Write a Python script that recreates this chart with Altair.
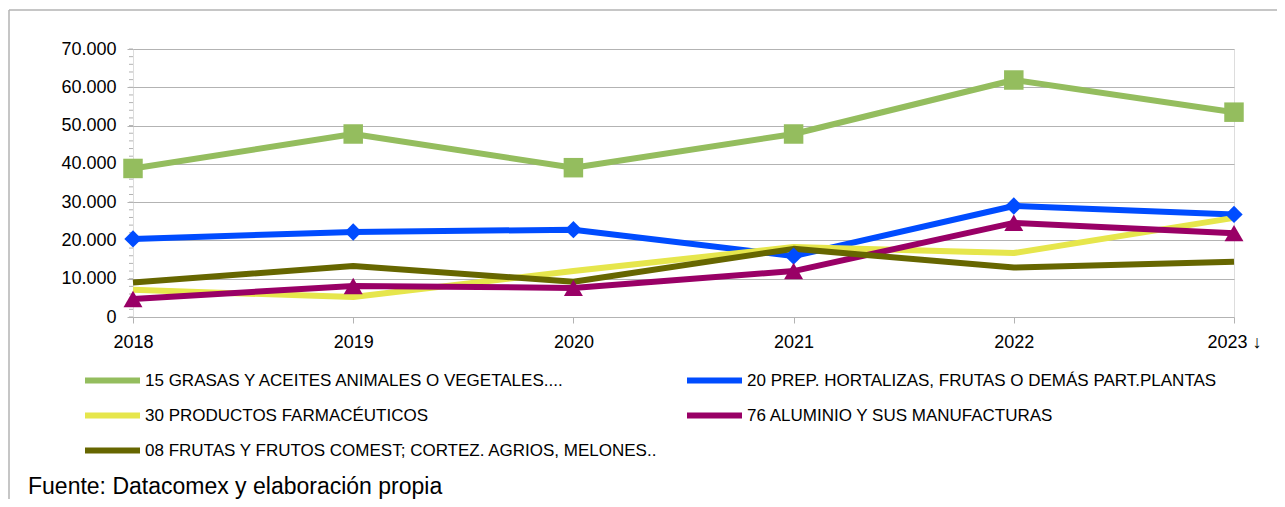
import altair as alt
import pandas as pd

years = [2018, 2019, 2020, 2021, 2022, 2023]
series = [
    "15 GRASAS Y ACEITES ANIMALES O VEGETALES....",
    "20 PREP. HORTALIZAS, FRUTAS O DEMÁS PART.PLANTAS",
    "30 PRODUCTOS FARMACÉUTICOS",
    "76 ALUMINIO Y SUS MANUFACTURAS",
    "08 FRUTAS Y FRUTOS COMEST; CORTEZ. AGRIOS, MELONES..",
]
grasas = [38800, 47800, 39000, 47800, 61900, 53500]
hortalizas = [20400, 22200, 22800, 15900, 29000, 26800]
farmaceuticos = [7100, 5200, 12000, 18300, 16700, 25900]
aluminio = [4700, 8100, 7600, 12000, 24600, 21900]
frutas = [9000, 13300, 9200, 17800, 12900, 14400]
colors = ["#94BD5E", "#004CFF", "#E6E64C", "#990066", "#666600"]
marker_shapes = ["square", "diamond", None, "triangle-up", None]
marker_sizes = [380, 300, 0, 360, 0]
minor_ticks = list(range(0, 70001, 2000))
y_ticks = [0, 10000, 20000, 30000, 40000, 50000, 60000, 70000]
source = "Fuente: Datacomex y elaboración propia"

values = [grasas, hortalizas, farmaceuticos, aluminio, frutas]
rows = []
for s, vals in zip(series, values):
    for yr, v in zip(years, vals):
        rows.append({"serie": s, "year": yr, "value": v})
df = pd.DataFrame(rows)

# legend is laid out column by column: reorder so rows read 15/20, 30/76, 08
legend_order = [series[0], series[2], series[4], series[1], series[3]]
legend_colors = [colors[series.index(s)] for s in legend_order]

W, H = 1101, 268
FONT = "Liberation Sans"
GRID = "#b3b3b3"

x_scale = alt.Scale(domain=[2018, 2023], nice=False, zero=False)
x_axis = alt.Axis(values=years, title=None, grid=False, domain=False,
                  tickColor=GRID, tickSize=6, labelPadding=10, labelFlush=False,
                  labelOverlap=False,
                  labelFontSize=18, labelFont=FONT, labelColor="black",
                  labelExpr="datum.value == 2023 ? '2023 ↓' : datum.value + ''")
y_scale = alt.Scale(domain=[0, 70000], nice=False)
y_axis = alt.Axis(values=y_ticks, title=None, grid=True, gridColor=GRID,
                  domain=False, tickColor=GRID, tickSize=6, labelPadding=11,
                  labelOverlap=False, labelFlush=False,
                  labelFontSize=18, labelFont=FONT, labelColor="black",
                  labelExpr="replace(format(datum.value, ','), ',', '.')")
x_enc = alt.X("year:Q", scale=x_scale, axis=x_axis)
y_enc = alt.Y("value:Q", scale=y_scale, axis=y_axis)

color_enc = alt.Color("serie:N", scale=alt.Scale(domain=legend_order, range=legend_colors),
                      legend=alt.Legend(orient="none", legendX=-51, legendY=323, columns=2,
                                        symbolType="stroke", symbolSize=3025,
                                        symbolStrokeWidth=6, clipHeight=17,
                                        labelFontSize=17, labelFont=FONT, labelColor="black",
                                        labelOffset=2, rowPadding=17, columnPadding=26,
                                        title=None, padding=0, labelLimit=700))

base = alt.Chart(df)
lines = base.mark_line(strokeWidth=6, strokeJoin="round").encode(
    x=x_enc, y=y_enc, color=color_enc, order=alt.Order("year:Q"))

point_layers = []
for s, c, shp, sz in zip(series, colors, marker_shapes, marker_sizes):
    if shp is None:
        continue
    point_layers.append(
        base.transform_filter(alt.datum.serie == s).mark_point(
            filled=True, opacity=1, shape=shp, size=sz, color=c).encode(
            x=x_enc, y=y_enc))

minor = alt.Chart(pd.DataFrame({"value": minor_ticks})).mark_rule(
    color=GRID, strokeWidth=1).encode(y=y_enc, x=alt.value(-4), x2=alt.value(0))

frame_top = alt.Chart(pd.DataFrame({"a": [0]})).mark_rule(color=GRID, strokeWidth=1.5).encode(
    x=alt.value(-124), x2=alt.value(W + 43), y=alt.value(-39))
frame_left = alt.Chart(pd.DataFrame({"a": [0]})).mark_rule(color=GRID, strokeWidth=1.5).encode(
    x=alt.value(-124), y=alt.value(-39), y2=alt.value(H + 182))

note = alt.Chart(pd.DataFrame({"t": [source]})).mark_text(
    align="left", baseline="alphabetic", fontSize=23, font=FONT, color="black").encode(
    text="t:N", x=alt.value(-105), y=alt.value(445))

chart = alt.layer(lines, frame_top, frame_left, minor, *point_layers, note).properties(
    width=W, height=H,
    autosize=alt.AutoSizeParams(type="none"),
    padding={"left": 125, "top": 41, "right": 43, "bottom": 182},
).configure_view(stroke=GRID, strokeWidth=1).configure(background="white")

chart.save("out.html", embed_options={"renderer": "svg", "actions": False})
